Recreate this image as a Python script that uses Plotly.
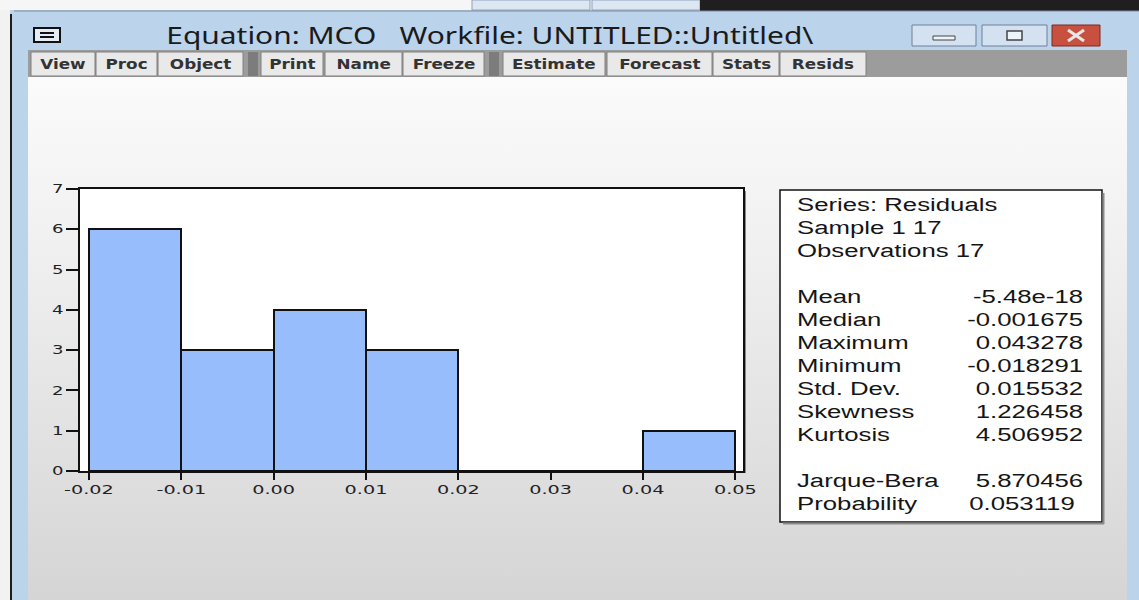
import base64
import plotly.graph_objects as go

# histogram of the residuals (bin edges and counts per bin)
bin_edges = [-0.02, -0.01, 0.00, 0.01, 0.02, 0.03, 0.04, 0.05]
bin_counts = [6, 3, 4, 3, 0, 0, 1]
y_ticks = [0, 1, 2, 3, 4, 5, 6, 7]

# descriptive statistics box
header_lines = ["Series: Residuals", "Sample 1 17", "Observations 17"]
stat_names = ["Mean", "Median", "Maximum", "Minimum", "Std. Dev.", "Skewness", "Kurtosis"]
stat_values = [-5.48e-18, -0.001675, 0.043278, -0.018291, 0.015532, 1.226458, 4.506952]
test_names = ["Jarque-Bera", "Probability"]
test_values = [5.870456, 0.053119]

window_title = "Equation: MCO   Workfile: UNTITLED::Untitled\\"
toolbar_labels = ["View", "Proc", "Object", "Print", "Name", "Freeze",
                  "Estimate", "Forecast", "Stats", "Resids"]

# pixel geometry of the window (layout only)
W, H = 1139, 600
PL, PR, PT, PB = 80, 743, 189, 471
toolbar_x = [(31, 95), (96, 157), (158, 243), (261, 323), (325, 402), (403, 484),
             (503, 605), (607, 712), (713, 779), (780, 866)]


def px(x):
    return (x - PL) / (PR - PL)


def py(y):
    return (PB - y) / (PB - PT)


def rect(x0, y0, x1, y1, fill, line=None, lw=0, layer="below"):
    return dict(type="rect", xref="paper", yref="paper",
                x0=px(x0), x1=px(x1), y0=py(y1), y1=py(y0),
                fillcolor=fill, line=dict(color=line or fill, width=lw), layer=layer)


def seg(x0, y0, x1, y1, color, lw, layer="below"):
    return dict(type="line", xref="paper", yref="paper",
                x0=px(x0), x1=px(x1), y0=py(y0), y1=py(y1),
                line=dict(color=color, width=lw), layer=layer)


def text(x, y, s, size, anchor="left", color="#151515", family="Liberation Sans", weight="normal"):
    return dict(x=px(x), y=py(y), xref="paper", yref="paper", text=s, showarrow=False,
                xanchor=anchor, yanchor="middle", align=anchor,
                font=dict(size=size, color=color, family=family, weight=weight))


def fmt(v):
    if v != 0 and abs(v) < 1e-6:
        return f"{v:.2e}"
    return f"{v:.6f}"


centers = [(a + b) / 2 for a, b in zip(bin_edges[:-1], bin_edges[1:])]

fig = go.Figure(go.Bar(
    x=centers, y=bin_counts, width=0.01,
    marker=dict(color="#97bdfd", line=dict(color="#111", width=2)),
    hoverinfo="skip"
))

# window chrome
shapes = [
    rect(0, 0, 10, H, "#f2f2f2"),
    rect(0, 0, W, 10, "#f6f6f6"),
    rect(472, 0, 590, 10, "#dde7f2", "#8fa3bb", 1),
    rect(592, 0, 700, 10, "#dde7f2", "#8fa3bb", 1),
    rect(700, 0, W, 11, "#1f1f1f"),
    rect(10, 14, 12, H, "#1c1c1c"),
    seg(14, 11, W, 11, "#7d8b9c", 1),
    rect(28, 50, 1127, 77, "#9c9c9c"),
    rect(248, 52, 258, 76, "#7c7c7c"),
    rect(489, 52, 499, 76, "#7c7c7c"),
    # system menu icon
    rect(34, 28, 60, 42, "#e4ecf6", "#111", 2),
    seg(40, 33, 54, 33, "#111", 2),
    seg(40, 37, 54, 37, "#111", 2),
    # minimise / maximise / close
    rect(912, 25, 976, 46, "#d3e1f1", "#6f8197", 1),
    rect(933, 36, 955, 40, "#eef4fb", "#444", 1),
    rect(982, 25, 1047, 46, "#d3e1f1", "#6f8197", 1),
    rect(1007, 31, 1022, 40, "#eef4fb", "#444", 1.5),
    rect(1052, 25, 1100, 46, "#c8503f", "#7a2a20", 1),
    seg(1068, 30, 1084, 41, "#e8e8e8", 3),
    seg(1068, 41, 1084, 30, "#e8e8e8", 3),
    # plot area and its shadow
    rect(PL, PT, PR, PB, "white"),
    seg(PR + 2, PT + 2, PR + 2, PB + 2, "#8a8a8a", 2),
    # statistics box
    rect(780, 190, 1102, 522, "white", "#111", 1.5, "above"),
    seg(1103.5, 193, 1103.5, 524, "#8a8a8a", 2, "above"),
    seg(783, 523.5, 1104, 523.5, "#8a8a8a", 2, "above"),
]
for lab, (x0, x1) in zip(toolbar_labels, toolbar_x):
    shapes.append(rect(x0, 52, x1, 76, "#e9e9e9", "#808080", 1))

ann = [text(490, 35, window_title, 23, "center", "#1a1a1a", "Noto Sans")]
for lab, (x0, x1) in zip(toolbar_labels, toolbar_x):
    ann.append(text((x0 + x1) / 2, 64, lab, 14, "center", "#333", "DejaVu Sans", "bold"))

row = 23
for i, s in enumerate(header_lines):
    ann.append(text(795, 205 + i * row, s, 18))
for i, (n, v) in enumerate(zip(stat_names, stat_values)):
    ann.append(text(795, 297 + i * row, n, 18))
    ann.append(text(1085, 297 + i * row, fmt(v), 18, "right"))
for i, (n, v) in enumerate(zip(test_names, test_values)):
    ann.append(text(795, 481 + i * row, n, 18))
    ann.append(text(1085 - 8 * i, 481 + i * row, fmt(v), 18, "right"))

# vertical gradient of the window's client area
svg = ('<svg xmlns="http://www.w3.org/2000/svg" width="10" height="100" viewBox="0 0 10 100" '
       'preserveAspectRatio="none"><defs><linearGradient id="g" x1="0" y1="0" x2="0" y2="1">'
       '<stop offset="0" stop-color="#fbfbfb"/><stop offset="0.3" stop-color="#f1f1f1"/>'
       '<stop offset="1" stop-color="#d5d5d5"/></linearGradient></defs>'
       '<rect width="10" height="100" fill="url(#g)"/></svg>')
bg_src = "data:image/svg+xml;base64," + base64.b64encode(svg.encode()).decode()

tickfont = dict(family="DejaVu Sans", size=12, color="#222")
fig.update_layout(
    width=W, height=H, autosize=False,
    margin=dict(l=PL, r=W - PR, t=PT, b=H - PB, pad=0),
    paper_bgcolor="#bcd3ec", plot_bgcolor="white",
    showlegend=False, bargap=0,
    shapes=shapes, annotations=ann,
    images=[dict(source=bg_src, xref="paper", yref="paper", x=px(28), y=py(77),
                 sizex=(1127 - 28) / (PR - PL), sizey=(H - 77) / (PB - PT),
                 xanchor="left", yanchor="top", sizing="stretch", layer="below")],
    xaxis=dict(range=[-0.02097, 0.05083], tickvals=bin_edges,
               ticktext=[f"{v:.2f}" for v in bin_edges],
               showgrid=False, zeroline=False, showline=True, linecolor="#111",
               linewidth=2, mirror=True, ticks="outside", ticklen=7, tickwidth=2,
               tickcolor="#111", tickfont=tickfont),
    yaxis=dict(range=[0, 7], tickvals=y_ticks, showgrid=False, zeroline=False,
               showline=True, linecolor="#111", linewidth=2, mirror=True,
               ticks="outside", ticklen=12, tickwidth=1.5, tickcolor="#111",
               tickfont=tickfont),
)

# the EViews screenshot draws its text horizontally stretched; drop the page margin too
post = """
document.body.style.margin = '0';
var gd = document.getElementById('{plot_id}');
function stretch(t, k) {
  if (t.getAttribute('data-k')) return;
  var w = t.getComputedTextLength();
  if (!w) return;
  t.setAttribute('textLength', (w * k).toFixed(1));
  t.setAttribute('lengthAdjust', 'spacingAndGlyphs');
  t.setAttribute('data-k', k);
}
function widen() {
  gd.querySelectorAll('.annotation-text').forEach(function (t) {
    var fs = parseFloat(t.style.fontSize);
    stretch(t, fs > 20 ? 1.3 : fs > 15 ? 1.43 : 1.2);
  });
  gd.querySelectorAll('.xtick text').forEach(function (t) { stretch(t, 1.6); });
  gd.querySelectorAll('.ytick text').forEach(function (t) { stretch(t, 1.5); });
}
widen();
gd.on('plotly_afterplot', widen);
"""
fig.write_html("out.html", post_script=post, config={"displayModeBar": False})
